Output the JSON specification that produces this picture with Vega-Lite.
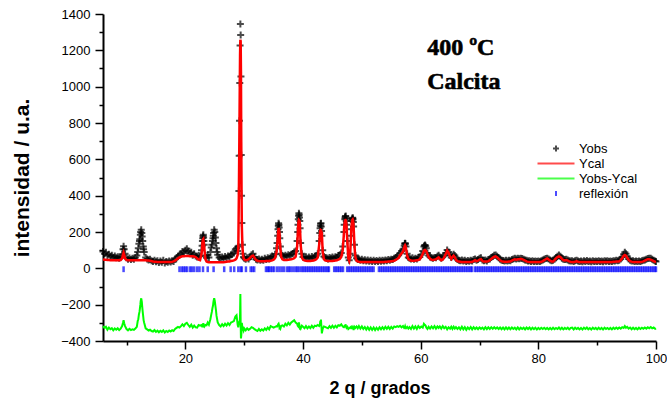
{
"$schema": "https://vega.github.io/schema/vega-lite/v6.json",
"width": 553, "height": 327,
"autosize": "none",
"padding": {"left": 103, "top": 14, "right": 11, "bottom": 59},
"background": "white",
"config": {
  "view": {"stroke": null},
  "font": "Liberation Sans",
  "axis": {"domainColor": "black", "domainWidth": 2, "tickColor": "black", "tickWidth": 1.5, "labelColor": "black", "labelFont": "Liberation Sans", "labelFontSize": 13, "titleFont": "Liberation Sans", "titleFontWeight": "bold", "titleColor": "black", "grid": false}
},
"data": {"values": [
{"x":6,"o":92,"c":48,"d":-318},{"x":6.25,"o":80,"c":47,"d":-328},{"x":6.5,"o":88,"c":47,"d":-322},{"x":6.75,"o":70,"c":46,"d":-338},
{"x":7,"o":78,"c":46,"d":-326},{"x":7.25,"o":66,"c":45,"d":-335},{"x":7.5,"o":72,"c":45,"d":-329},{"x":7.75,"o":60,"c":45,"d":-341},
{"x":8,"o":68,"c":44,"d":-331},{"x":8.25,"o":58,"c":44,"d":-338},{"x":8.5,"o":64,"c":44,"d":-330},{"x":8.75,"o":55,"c":44,"d":-340},
{"x":9,"o":62,"c":45,"d":-332},{"x":9.25,"o":78,"c":55,"d":-318},{"x":9.5,"o":122,"c":86,"d":-285},{"x":9.75,"o":80,"c":55,"d":-318},
{"x":10,"o":58,"c":45,"d":-334},{"x":10.25,"o":50,"c":44,"d":-341},{"x":10.5,"o":57,"c":44,"d":-333},{"x":10.75,"o":48,"c":44,"d":-340},
{"x":11,"o":55,"c":44,"d":-336},{"x":11.25,"o":50,"c":44,"d":-339},{"x":11.5,"o":60,"c":44,"d":-331},{"x":11.75,"o":70,"c":44,"d":-322},
{"x":12,"o":110,"c":44,"d":-280},{"x":12.25,"o":160,"c":44,"d":-228},{"x":12.5,"o":212,"c":45,"d":-165},{"x":12.75,"o":150,"c":45,"d":-240},
{"x":13,"o":90,"c":44,"d":-300},{"x":13.25,"o":60,"c":44,"d":-330},{"x":13.5,"o":52,"c":43,"d":-336},{"x":13.75,"o":46,"c":43,"d":-342},
{"x":14,"o":50,"c":42,"d":-338},{"x":14.25,"o":42,"c":40,"d":-345},{"x":14.5,"o":38,"c":37,"d":-348},{"x":14.75,"o":45,"c":36,"d":-340},
{"x":15,"o":36,"c":36,"d":-350},{"x":15.25,"o":42,"c":35,"d":-343},{"x":15.5,"o":32,"c":35,"d":-352},{"x":15.75,"o":40,"c":35,"d":-344},
{"x":16,"o":34,"c":35,"d":-350},{"x":16.25,"o":44,"c":35,"d":-341},{"x":16.5,"o":30,"c":35,"d":-353},{"x":16.75,"o":38,"c":35,"d":-345},
{"x":17,"o":33,"c":35,"d":-350},{"x":17.25,"o":41,"c":35,"d":-342},{"x":17.5,"o":35,"c":35,"d":-348},{"x":17.75,"o":42,"c":36,"d":-341},
{"x":18,"o":38,"c":38,"d":-345},{"x":18.25,"o":50,"c":42,"d":-334},{"x":18.5,"o":58,"c":48,"d":-328},{"x":18.75,"o":66,"c":55,"d":-322},
{"x":19,"o":72,"c":60,"d":-326},{"x":19.25,"o":80,"c":64,"d":-318},{"x":19.5,"o":92,"c":66,"d":-308},{"x":19.75,"o":86,"c":67,"d":-318},
{"x":20,"o":100,"c":68,"d":-305},{"x":20.25,"o":108,"c":68,"d":-300},{"x":20.5,"o":95,"c":68,"d":-312},{"x":20.75,"o":82,"c":67,"d":-322},
{"x":21,"o":88,"c":66,"d":-310},{"x":21.25,"o":72,"c":66,"d":-326},{"x":21.5,"o":80,"c":65,"d":-315},{"x":21.75,"o":68,"c":62,"d":-325},
{"x":22,"o":62,"c":55,"d":-326},{"x":22.25,"o":70,"c":48,"d":-312},{"x":22.5,"o":66,"c":45,"d":-316},{"x":22.75,"o":100,"c":80,"d":-312},
{"x":22.9,"o":150,"c":140,"d":-320},{"x":23.05,"o":185,"c":162,"d":-302},{"x":23.2,"o":130,"c":120,"d":-322},{"x":23.4,"o":70,"c":50,"d":-312},
{"x":23.6,"o":58,"c":38,"d":-314},{"x":23.8,"o":72,"c":35,"d":-298},{"x":24,"o":60,"c":34,"d":-310},{"x":24.25,"o":90,"c":34,"d":-280},
{"x":24.5,"o":130,"c":34,"d":-240},{"x":24.75,"o":180,"c":34,"d":-190},{"x":24.9,"o":212,"c":34,"d":-165},{"x":25.1,"o":170,"c":34,"d":-205},
{"x":25.3,"o":110,"c":34,"d":-262},{"x":25.5,"o":75,"c":34,"d":-298},{"x":25.75,"o":60,"c":34,"d":-312},{"x":26,"o":52,"c":34,"d":-320},
{"x":26.25,"o":62,"c":34,"d":-308},{"x":26.5,"o":55,"c":34,"d":-318},{"x":26.75,"o":65,"c":35,"d":-305},{"x":27,"o":58,"c":36,"d":-315},
{"x":27.25,"o":68,"c":37,"d":-302},{"x":27.5,"o":62,"c":38,"d":-312},{"x":27.75,"o":75,"c":40,"d":-298},{"x":28,"o":80,"c":42,"d":-295},
{"x":28.25,"o":85,"c":44,"d":-290},{"x":28.5,"o":105,"c":48,"d":-265},{"x":28.7,"o":110,"c":55,"d":-258},{"x":28.9,"o":95,"c":75,"d":-312},
{"x":29,"o":120,"c":110,"d":-325},{"x":29.1,"o":426,"c":420,"d":-300},{"x":29.2,"o":813,"c":800,"d":-290},{"x":29.3,"o":1226,"c":1180,"d":-250},
{"x":29.35,"o":1345,"c":1258,"d":-142},{"x":29.4,"o":1285,"c":1250,"d":-300},{"x":29.45,"o":1056,"c":1080,"d":-386},{"x":29.5,"o":624,"c":700,"d":-370},
{"x":29.55,"o":400,"c":420,"d":-345},{"x":29.6,"o":250,"c":230,"d":-300},{"x":29.7,"o":130,"c":120,"d":-325},{"x":29.8,"o":80,"c":70,"d":-332},
{"x":29.9,"o":62,"c":55,"d":-342},{"x":30,"o":55,"c":48,"d":-330},{"x":30.25,"o":50,"c":45,"d":-341},{"x":30.5,"o":58,"c":46,"d":-330},
{"x":30.75,"o":52,"c":50,"d":-339},{"x":31,"o":62,"c":58,"d":-333},{"x":31.25,"o":75,"c":66,"d":-324},{"x":31.5,"o":80,"c":70,"d":-327},
{"x":31.75,"o":62,"c":58,"d":-335},{"x":32,"o":50,"c":46,"d":-340},{"x":32.25,"o":46,"c":42,"d":-345},{"x":32.5,"o":52,"c":40,"d":-334},
{"x":32.75,"o":44,"c":39,"d":-344},{"x":33,"o":50,"c":39,"d":-336},{"x":33.25,"o":45,"c":39,"d":-342},{"x":33.5,"o":55,"c":39,"d":-330},
{"x":33.75,"o":48,"c":40,"d":-339},{"x":34,"o":58,"c":40,"d":-326},{"x":34.25,"o":52,"c":40,"d":-336},{"x":34.5,"o":62,"c":42,"d":-318},
{"x":34.75,"o":68,"c":44,"d":-322},{"x":35,"o":65,"c":48,"d":-326},{"x":35.25,"o":78,"c":56,"d":-322},{"x":35.5,"o":110,"c":90,"d":-318},
{"x":35.7,"o":180,"c":160,"d":-315},{"x":35.85,"o":248,"c":222,"d":-304},{"x":36,"o":200,"c":190,"d":-328},{"x":36.15,"o":120,"c":110,"d":-332},
{"x":36.3,"o":80,"c":62,"d":-316},{"x":36.5,"o":70,"c":50,"d":-314},{"x":36.75,"o":62,"c":46,"d":-320},{"x":37,"o":72,"c":46,"d":-305},
{"x":37.25,"o":66,"c":46,"d":-314},{"x":37.5,"o":75,"c":47,"d":-300},{"x":37.75,"o":70,"c":48,"d":-310},{"x":38,"o":78,"c":50,"d":-298},
{"x":38.25,"o":82,"c":52,"d":-292},{"x":38.5,"o":90,"c":56,"d":-286},{"x":38.75,"o":95,"c":64,"d":-298},{"x":39,"o":150,"c":120,"d":-305},
{"x":39.15,"o":240,"c":220,"d":-318},{"x":39.3,"o":303,"c":266,"d":-298},{"x":39.45,"o":260,"c":250,"d":-328},{"x":39.6,"o":140,"c":130,"d":-332},
{"x":39.8,"o":80,"c":60,"d":-316},{"x":40,"o":62,"c":48,"d":-322},{"x":40.25,"o":58,"c":44,"d":-330},{"x":40.5,"o":64,"c":42,"d":-318},
{"x":40.75,"o":55,"c":41,"d":-330},{"x":41,"o":62,"c":41,"d":-320},{"x":41.25,"o":56,"c":41,"d":-329},{"x":41.5,"o":65,"c":42,"d":-316},
{"x":41.75,"o":58,"c":43,"d":-327},{"x":42,"o":66,"c":46,"d":-316},{"x":42.25,"o":70,"c":50,"d":-318},{"x":42.5,"o":80,"c":60,"d":-312},
{"x":42.75,"o":150,"c":130,"d":-318},{"x":42.9,"o":220,"c":200,"d":-300},{"x":43.05,"o":248,"c":211,"d":-282},{"x":43.2,"o":180,"c":190,"d":-358},
{"x":43.35,"o":100,"c":90,"d":-332},{"x":43.55,"o":65,"c":50,"d":-320},{"x":43.75,"o":60,"c":44,"d":-322},{"x":44,"o":58,"c":42,"d":-326},
{"x":44.25,"o":52,"c":41,"d":-330},{"x":44.5,"o":60,"c":41,"d":-318},{"x":44.75,"o":55,"c":41,"d":-328},{"x":45,"o":62,"c":41,"d":-316},
{"x":45.25,"o":56,"c":42,"d":-327},{"x":45.5,"o":64,"c":43,"d":-316},{"x":45.75,"o":60,"c":44,"d":-325},{"x":46,"o":70,"c":48,"d":-313},
{"x":46.25,"o":75,"c":52,"d":-316},{"x":46.5,"o":85,"c":62,"d":-308},{"x":46.75,"o":120,"c":100,"d":-320},{"x":46.95,"o":200,"c":190,"d":-324},
{"x":47.1,"o":270,"c":255,"d":-316},{"x":47.25,"o":288,"c":266,"d":-308},{"x":47.4,"o":240,"c":230,"d":-328},{"x":47.55,"o":150,"c":140,"d":-322},
{"x":47.7,"o":60,"c":55,"d":-334},{"x":47.85,"o":45,"c":42,"d":-330},{"x":48,"o":80,"c":70,"d":-326},{"x":48.15,"o":180,"c":170,"d":-322},
{"x":48.3,"o":260,"c":250,"d":-330},{"x":48.45,"o":278,"c":270,"d":-324},{"x":48.6,"o":230,"c":230,"d":-340},{"x":48.75,"o":130,"c":120,"d":-322},
{"x":48.9,"o":70,"c":60,"d":-328},{"x":49.1,"o":55,"c":42,"d":-320},{"x":49.3,"o":48,"c":38,"d":-330},{"x":49.5,"o":52,"c":36,"d":-318},
{"x":49.75,"o":44,"c":35,"d":-332},{"x":50,"o":50,"c":35,"d":-320},{"x":50.25,"o":42,"c":35,"d":-334},{"x":50.5,"o":47,"c":35,"d":-323},
{"x":50.75,"o":40,"c":35,"d":-337},{"x":51,"o":46,"c":35,"d":-324},{"x":51.25,"o":39,"c":35,"d":-338},{"x":51.5,"o":45,"c":35,"d":-325},
{"x":51.75,"o":38,"c":35,"d":-339},{"x":52,"o":44,"c":35,"d":-326},{"x":52.25,"o":37,"c":35,"d":-340},{"x":52.5,"o":43,"c":35,"d":-327},
{"x":52.75,"o":38,"c":35,"d":-338},{"x":53,"o":44,"c":35,"d":-325},{"x":53.25,"o":39,"c":35,"d":-336},{"x":53.5,"o":45,"c":35,"d":-324},
{"x":53.75,"o":40,"c":35,"d":-335},{"x":54,"o":46,"c":36,"d":-322},{"x":54.25,"o":42,"c":36,"d":-333},{"x":54.5,"o":48,"c":37,"d":-322},
{"x":54.75,"o":44,"c":38,"d":-334},{"x":55,"o":50,"c":39,"d":-322},{"x":55.25,"o":48,"c":40,"d":-332},{"x":55.5,"o":55,"c":42,"d":-320},
{"x":55.75,"o":60,"c":46,"d":-324},{"x":56,"o":65,"c":52,"d":-318},{"x":56.25,"o":72,"c":58,"d":-322},{"x":56.5,"o":85,"c":72,"d":-316},
{"x":56.75,"o":95,"c":82,"d":-325},{"x":57,"o":105,"c":92,"d":-318},{"x":57.2,"o":125,"c":115,"d":-328},{"x":57.35,"o":138,"c":128,"d":-320},
{"x":57.5,"o":120,"c":110,"d":-330},{"x":57.7,"o":80,"c":70,"d":-322},{"x":57.9,"o":60,"c":52,"d":-332},{"x":58.1,"o":55,"c":46,"d":-324},
{"x":58.35,"o":52,"c":43,"d":-334},{"x":58.6,"o":58,"c":42,"d":-318},{"x":58.85,"o":50,"c":42,"d":-332},{"x":59.1,"o":56,"c":43,"d":-320},
{"x":59.35,"o":52,"c":44,"d":-334},{"x":59.6,"o":60,"c":46,"d":-318},{"x":59.85,"o":62,"c":50,"d":-328},{"x":60.1,"o":75,"c":62,"d":-320},
{"x":60.35,"o":95,"c":80,"d":-326},{"x":60.55,"o":120,"c":96,"d":-306},{"x":60.75,"o":128,"c":101,"d":-312},{"x":60.95,"o":110,"c":95,"d":-326},
{"x":61.15,"o":85,"c":78,"d":-334},{"x":61.35,"o":70,"c":62,"d":-322},{"x":61.6,"o":62,"c":52,"d":-332},{"x":61.85,"o":58,"c":48,"d":-320},
{"x":62.1,"o":55,"c":46,"d":-330},{"x":62.35,"o":60,"c":48,"d":-318},{"x":62.6,"o":58,"c":50,"d":-332},{"x":62.85,"o":66,"c":56,"d":-320},
{"x":63.05,"o":72,"c":60,"d":-328},{"x":63.25,"o":62,"c":52,"d":-320},{"x":63.5,"o":55,"c":44,"d":-332},{"x":63.75,"o":62,"c":48,"d":-318},
{"x":64,"o":70,"c":60,"d":-330},{"x":64.25,"o":85,"c":78,"d":-322},{"x":64.5,"o":101,"c":97,"d":-336},{"x":64.75,"o":90,"c":85,"d":-324},
{"x":65,"o":72,"c":62,"d":-332},{"x":65.2,"o":60,"c":52,"d":-322},{"x":65.4,"o":68,"c":62,"d":-334},{"x":65.6,"o":78,"c":70,"d":-322},
{"x":65.8,"o":70,"c":62,"d":-332},{"x":66,"o":55,"c":46,"d":-324},{"x":66.25,"o":48,"c":40,"d":-334},{"x":66.5,"o":45,"c":37,"d":-325},
{"x":66.75,"o":42,"c":36,"d":-336},{"x":67,"o":46,"c":35,"d":-322},{"x":67.25,"o":40,"c":35,"d":-336},{"x":67.5,"o":44,"c":35,"d":-324},
{"x":67.75,"o":38,"c":35,"d":-338},{"x":68,"o":43,"c":35,"d":-325},{"x":68.25,"o":39,"c":35,"d":-335},{"x":68.5,"o":44,"c":35,"d":-323},
{"x":68.75,"o":40,"c":36,"d":-336},{"x":69,"o":48,"c":40,"d":-324},{"x":69.25,"o":52,"c":45,"d":-334},{"x":69.5,"o":44,"c":40,"d":-326},
{"x":69.75,"o":48,"c":42,"d":-335},{"x":70,"o":55,"c":48,"d":-325},{"x":70.25,"o":58,"c":50,"d":-333},{"x":70.5,"o":46,"c":40,"d":-326},
{"x":70.75,"o":42,"c":37,"d":-336},{"x":71,"o":46,"c":37,"d":-324},{"x":71.25,"o":41,"c":37,"d":-335},{"x":71.5,"o":48,"c":40,"d":-325},
{"x":71.75,"o":52,"c":45,"d":-334},{"x":72,"o":60,"c":52,"d":-324},{"x":72.25,"o":65,"c":58,"d":-333},{"x":72.5,"o":72,"c":64,"d":-324},
{"x":72.75,"o":73,"c":66,"d":-332},{"x":73,"o":66,"c":60,"d":-325},{"x":73.25,"o":58,"c":52,"d":-334},{"x":73.5,"o":50,"c":44,"d":-326},
{"x":73.75,"o":45,"c":40,"d":-335},{"x":74,"o":43,"c":37,"d":-326},{"x":74.25,"o":40,"c":36,"d":-336},{"x":74.5,"o":44,"c":36,"d":-325},
{"x":74.75,"o":40,"c":36,"d":-335},{"x":75,"o":44,"c":37,"d":-326},{"x":75.25,"o":42,"c":38,"d":-335},{"x":75.5,"o":48,"c":42,"d":-326},
{"x":75.75,"o":52,"c":46,"d":-334},{"x":76,"o":55,"c":50,"d":-327},{"x":76.25,"o":52,"c":48,"d":-336},{"x":76.5,"o":56,"c":50,"d":-325},
{"x":76.75,"o":53,"c":50,"d":-336},{"x":77,"o":56,"c":52,"d":-327},{"x":77.25,"o":54,"c":50,"d":-334},{"x":77.5,"o":50,"c":46,"d":-327},
{"x":77.75,"o":46,"c":42,"d":-336},{"x":78,"o":44,"c":38,"d":-326},{"x":78.25,"o":40,"c":36,"d":-334},{"x":78.5,"o":42,"c":35,"d":-326},
{"x":78.75,"o":38,"c":35,"d":-336},{"x":79,"o":42,"c":35,"d":-327},{"x":79.25,"o":38,"c":35,"d":-335},{"x":79.5,"o":41,"c":35,"d":-327},
{"x":79.75,"o":37,"c":35,"d":-337},{"x":80,"o":41,"c":35,"d":-328},{"x":80.25,"o":38,"c":35,"d":-335},{"x":80.5,"o":42,"c":36,"d":-327},
{"x":80.75,"o":46,"c":40,"d":-334},{"x":81,"o":50,"c":45,"d":-327},{"x":81.25,"o":54,"c":50,"d":-335},{"x":81.5,"o":56,"c":54,"d":-328},
{"x":81.75,"o":52,"c":48,"d":-336},{"x":82,"o":46,"c":42,"d":-328},{"x":82.25,"o":42,"c":38,"d":-336},{"x":82.5,"o":44,"c":38,"d":-327},
{"x":82.75,"o":50,"c":45,"d":-335},{"x":83,"o":58,"c":55,"d":-328},{"x":83.25,"o":66,"c":62,"d":-334},{"x":83.5,"o":73,"c":66,"d":-326},
{"x":83.75,"o":66,"c":62,"d":-335},{"x":84,"o":56,"c":52,"d":-327},{"x":84.25,"o":50,"c":46,"d":-336},{"x":84.5,"o":48,"c":44,"d":-328},
{"x":84.75,"o":50,"c":46,"d":-334},{"x":85,"o":46,"c":42,"d":-327},{"x":85.25,"o":42,"c":38,"d":-336},{"x":85.5,"o":40,"c":36,"d":-328},
{"x":85.75,"o":42,"c":35,"d":-326},{"x":86,"o":38,"c":35,"d":-336},{"x":86.25,"o":42,"c":36,"d":-327},{"x":86.5,"o":44,"c":40,"d":-334},
{"x":86.75,"o":40,"c":36,"d":-328},{"x":87,"o":37,"c":35,"d":-336},{"x":87.25,"o":41,"c":35,"d":-328},{"x":87.5,"o":36,"c":35,"d":-337},
{"x":87.75,"o":42,"c":35,"d":-327},{"x":88,"o":38,"c":35,"d":-334},{"x":88.25,"o":43,"c":35,"d":-326},{"x":88.5,"o":37,"c":35,"d":-336},
{"x":88.75,"o":40,"c":35,"d":-329},{"x":89,"o":36,"c":35,"d":-337},{"x":89.25,"o":42,"c":35,"d":-327},{"x":89.5,"o":38,"c":35,"d":-334},
{"x":89.75,"o":41,"c":35,"d":-328},{"x":90,"o":37,"c":35,"d":-336},{"x":90.25,"o":42,"c":35,"d":-327},{"x":90.5,"o":38,"c":35,"d":-335},
{"x":90.75,"o":41,"c":35,"d":-328},{"x":91,"o":36,"c":35,"d":-337},{"x":91.25,"o":42,"c":35,"d":-327},{"x":91.5,"o":39,"c":35,"d":-334},
{"x":91.75,"o":42,"c":35,"d":-328},{"x":92,"o":38,"c":35,"d":-335},{"x":92.25,"o":41,"c":35,"d":-328},{"x":92.5,"o":37,"c":35,"d":-336},
{"x":92.75,"o":42,"c":36,"d":-327},{"x":93,"o":40,"c":36,"d":-334},{"x":93.25,"o":44,"c":37,"d":-326},{"x":93.5,"o":42,"c":37,"d":-333},
{"x":93.75,"o":45,"c":38,"d":-326},{"x":94,"o":52,"c":45,"d":-332},{"x":94.25,"o":62,"c":56,"d":-324},{"x":94.5,"o":78,"c":68,"d":-328},
{"x":94.7,"o":88,"c":73,"d":-318},{"x":94.9,"o":80,"c":70,"d":-327},{"x":95.1,"o":66,"c":58,"d":-322},{"x":95.35,"o":52,"c":46,"d":-332},
{"x":95.6,"o":44,"c":40,"d":-326},{"x":95.85,"o":40,"c":37,"d":-335},{"x":96.1,"o":42,"c":35,"d":-327},{"x":96.35,"o":38,"c":35,"d":-335},
{"x":96.6,"o":41,"c":35,"d":-328},{"x":96.85,"o":37,"c":35,"d":-336},{"x":97.1,"o":41,"c":35,"d":-327},{"x":97.35,"o":38,"c":35,"d":-334},
{"x":97.6,"o":42,"c":36,"d":-327},{"x":97.85,"o":44,"c":38,"d":-333},{"x":98.1,"o":46,"c":42,"d":-326},{"x":98.35,"o":50,"c":46,"d":-332},
{"x":98.6,"o":54,"c":50,"d":-324},{"x":98.85,"o":56,"c":50,"d":-330},{"x":99.1,"o":55,"c":48,"d":-323},{"x":99.35,"o":50,"c":44,"d":-330},
{"x":99.6,"o":44,"c":40,"d":-326},{"x":99.85,"o":40,"c":36,"d":-333},{"x":100,"o":38,"c":35,"d":-330},
{"x":9.4,"o":105,"c":75,"d":-300},{"x":9.6,"o":105,"c":75,"d":-302},
{"x":11.9,"o":90,"c":44,"d":-290},{"x":12.1,"o":135,"c":44,"d":-255},{"x":12.2,"o":150,"c":44,"d":-240},{"x":12.35,"o":185,"c":44,"d":-200},{"x":12.4,"o":200,"c":44,"d":-182},{"x":12.6,"o":195,"c":45,"d":-185},{"x":12.65,"o":175,"c":45,"d":-205},{"x":12.85,"o":120,"c":44,"d":-268},{"x":12.9,"o":105,"c":44,"d":-285},
{"x":22.85,"o":125,"c":110,"d":-320},{"x":22.95,"o":165,"c":152,"d":-318},{"x":23.0,"o":178,"c":160,"d":-312},{"x":23.1,"o":170,"c":150,"d":-315},{"x":23.15,"o":150,"c":135,"d":-320},
{"x":24.4,"o":115,"c":34,"d":-255},{"x":24.6,"o":150,"c":34,"d":-220},{"x":24.7,"o":165,"c":34,"d":-205},{"x":24.8,"o":195,"c":34,"d":-180},{"x":25.0,"o":200,"c":34,"d":-180},{"x":25.2,"o":140,"c":34,"d":-230},{"x":25.4,"o":90,"c":34,"d":-280},
{"x":29.15,"o":620,"c":610,"d":-300},{"x":29.25,"o":1020,"c":1000,"d":-300},
{"x":35.6,"o":140,"c":125,"d":-320},{"x":35.75,"o":215,"c":190,"d":-310},{"x":35.8,"o":235,"c":210,"d":-306},{"x":35.9,"o":240,"c":215,"d":-310},{"x":35.95,"o":225,"c":205,"d":-316},{"x":36.05,"o":165,"c":155,"d":-326},
{"x":39.1,"o":200,"c":180,"d":-316},{"x":39.2,"o":270,"c":245,"d":-310},{"x":39.25,"o":290,"c":260,"d":-305},{"x":39.35,"o":295,"c":264,"d":-306},{"x":39.4,"o":280,"c":260,"d":-315},{"x":39.5,"o":220,"c":210,"d":-326},
{"x":42.85,"o":195,"c":175,"d":-312},{"x":42.95,"o":235,"c":208,"d":-302},{"x":43.0,"o":245,"c":212,"d":-296},{"x":43.1,"o":230,"c":205,"d":-310},{"x":43.15,"o":205,"c":200,"d":-330},
{"x":47.0,"o":240,"c":230,"d":-322},{"x":47.15,"o":280,"c":262,"d":-315},{"x":47.2,"o":285,"c":266,"d":-313},{"x":47.3,"o":275,"c":262,"d":-320},{"x":47.35,"o":260,"c":250,"d":-325},
{"x":48.2,"o":215,"c":210,"d":-330},{"x":48.35,"o":270,"c":262,"d":-327},{"x":48.4,"o":276,"c":268,"d":-327},{"x":48.5,"o":270,"c":265,"d":-330},{"x":48.55,"o":255,"c":250,"d":-330},
{"x":57.3,"o":135,"c":125,"d":-325},{"x":57.4,"o":135,"c":125,"d":-326},{"x":60.65,"o":126,"c":100,"d":-310},{"x":60.85,"o":122,"c":99,"d":-316}
]},
"layer": [
 {
  "mark": {"type": "point", "filled": false, "strokeWidth": 2, "size": 136, "clip": false},
  "encoding": {
   "x": {"field": "x", "type": "quantitative", "scale": {"domain": [6, 100], "nice": false, "zero": false},
         "axis": {"orient": "bottom", "values": [20, 40, 60, 80, 100], "tickSize": 8, "labelPadding": 3, "labelFlush": false, "title": "2 q  / grados", "titleFontSize": 18, "titleY": 52, "titleBaseline": "alphabetic"}},
   "y": {"field": "o", "type": "quantitative", "scale": {"domain": [-400, 1400], "nice": false, "zero": false},
         "axis": {"orient": "left", "values": [-400, -200, 0, 200, 400, 600, 800, 1000, 1200, 1400], "format": "d", "tickSize": 8, "labelPadding": 5, "title": "intensidad / u.a.", "titleFontSize": 21, "titleX": -81, "titleY": 163.5, "titleAngle": -90, "titleBaseline": "middle", "titleAlign": "center"}},
   "color": {"datum": "Yobs", "type": "nominal",
     "scale": {"domain": ["Yobs", "Ycal", "Yobs-Ycal", "reflexión"], "range": ["#000000", "#ff0000", "#00ff00", "#0000ff"]},
     "legend": {"orient": "none", "legendX": 446.5, "legendY": 128, "title": null, "symbolSize": 100, "symbolStrokeWidth": 2, "labelFontSize": 13, "labelFont": "Liberation Sans", "labelColor": "black", "labelOffset": 16.5, "rowPadding": 1, "padding": 0}},
   "shape": {"datum": "Yobs", "type": "nominal",
     "scale": {"domain": ["Yobs", "Ycal", "Yobs-Ycal", "reflexión"], "range": ["M-0.6,0H0.6M0,-0.6V0.6", "M-3.7,0H3.7", "M-3.7,0H3.7", "M0,-0.5V0.5"]},
     "legend": {"orient": "none", "legendX": 446.5, "legendY": 128, "title": null, "symbolSize": 100, "symbolStrokeWidth": 2, "labelFontSize": 13, "labelFont": "Liberation Sans", "labelColor": "black", "labelOffset": 16.5, "rowPadding": 1, "padding": 0}}
  }
 },
 {
  "mark": {"type": "line", "strokeWidth": 2.5},
  "encoding": {
   "x": {"field": "x", "type": "quantitative", "axis": {"orient": "bottom", "values": [10, 30, 50, 70, 90], "tickSize": 4, "labels": false, "domain": false, "title": null}},
   "y": {"field": "c", "type": "quantitative", "axis": {"orient": "left", "values": [-300, -100, 100, 300, 500, 700, 900, 1100, 1300], "tickSize": 4, "labels": false, "domain": false, "title": null}},
   "color": {"datum": "Ycal", "type": "nominal"}
  }
 },
 {
  "mark": {"type": "line", "strokeWidth": 2},
  "encoding": {
   "x": {"field": "x", "type": "quantitative", "axis": null},
   "y": {"field": "d", "type": "quantitative", "axis": null},
   "color": {"datum": "Yobs-Ycal", "type": "nominal"}
  }
 },
 {
  "data": {"values": [
   {"r":9.5},{"r":19.0},{"r":19.4},{"r":19.7},{"r":20.0},{"r":20.3},{"r":20.8},{"r":21.1},{"r":21.5},{"r":22.0},{"r":22.4},{"r":23.0},{"r":23.8},{"r":24.8},
   {"r":26.6},{"r":27.7},{"r":28.3},{"r":29.0},{"r":29.4},{"r":29.6},{"r":30.3},{"r":31.1},{"r":31.4},{"r":31.7},
   {"r":33.7},{"r":34.0},{"r":34.2},{"r":34.5},{"r":34.8},{"r":35.1},{"r":35.6},{"r":36.0},{"r":36.4},{"r":36.8},{"r":37.3},{"r":37.6},{"r":37.9},{"r":38.3},{"r":38.7},{"r":39.0},{"r":39.3},{"r":39.7},{"r":40.0},
   {"r":40.3},{"r":40.6},{"r":40.9},{"r":41.2},{"r":41.5},{"r":41.8},{"r":42.1},{"r":42.4},{"r":42.7},{"r":43.0},{"r":43.3},{"r":43.6},{"r":43.9},{"r":44.2},{"r":44.4},
   {"r":45.3},{"r":45.6},{"r":45.9},{"r":46.2},{"r":46.5},{"r":46.8},
   {"r":47.5},{"r":47.8},{"r":48.1},{"r":48.4},{"r":48.7},{"r":49.0},{"r":49.3},{"r":49.6},{"r":49.9},{"r":50.2},{"r":50.5},{"r":50.8},{"r":51.1},{"r":51.4},{"r":51.7},{"r":52.0},
   {"r":52.9},{"r":53.2},{"r":53.5},{"r":53.8},{"r":54.1},{"r":54.4},{"r":54.7},{"r":55.0},{"r":55.3},{"r":55.6},{"r":55.9},{"r":56.2},{"r":56.5},{"r":56.8},{"r":57.1},{"r":57.4},{"r":57.7},{"r":58.0},{"r":58.3},{"r":58.6},{"r":58.9},{"r":59.2},{"r":59.5},{"r":59.8},{"r":60.1},{"r":60.4},{"r":60.7},{"r":61.0},{"r":61.3},{"r":61.6},{"r":61.9},{"r":62.2},{"r":62.5},{"r":62.8},{"r":63.1},{"r":63.4},{"r":63.7},{"r":64.0},{"r":64.3},{"r":64.6},{"r":64.9},{"r":65.2},{"r":65.5},{"r":65.8},{"r":66.1},{"r":66.4},{"r":66.7},{"r":67.0},{"r":67.3},{"r":67.6},{"r":67.9},{"r":68.2},{"r":68.5},{"r":68.7},
   {"r":69.2},{"r":69.5},{"r":69.8},{"r":70.1},{"r":70.4},{"r":70.7},{"r":71.0},{"r":71.3},{"r":71.6},{"r":71.9},{"r":72.2},{"r":72.5},{"r":72.8},{"r":73.1},{"r":73.4},{"r":73.7},{"r":74.0},{"r":74.3},{"r":74.6},{"r":74.9},{"r":75.2},{"r":75.5},{"r":75.8},{"r":76.1},{"r":76.4},{"r":76.7},{"r":77.0},{"r":77.3},{"r":77.6},{"r":77.9},{"r":78.2},{"r":78.5},{"r":78.8},{"r":79.1},{"r":79.4},{"r":79.7},{"r":80.0},{"r":80.3},{"r":80.6},{"r":80.9},{"r":81.2},{"r":81.5},{"r":81.8},{"r":82.1},{"r":82.4},{"r":82.7},{"r":83.0},{"r":83.3},{"r":83.6},{"r":83.9},{"r":84.2},{"r":84.5},{"r":84.8},{"r":85.1},{"r":85.4},{"r":85.7},{"r":86.0},{"r":86.3},{"r":86.6},{"r":86.9},{"r":87.2},{"r":87.5},{"r":87.8},{"r":88.1},{"r":88.4},{"r":88.7},{"r":89.0},{"r":89.3},{"r":89.6},{"r":89.9},{"r":90.2},{"r":90.5},{"r":90.8},{"r":91.1},{"r":91.4},{"r":91.7},{"r":92.0},{"r":92.3},{"r":92.6},{"r":92.9},{"r":93.2},{"r":93.5},{"r":93.8},{"r":94.1},{"r":94.4},{"r":94.7},{"r":95.0},{"r":95.3},{"r":95.6},{"r":95.9},{"r":96.2},{"r":96.5},{"r":96.8},{"r":97.1},{"r":97.4},{"r":97.7},{"r":98.0},{"r":98.3},{"r":98.6},{"r":98.9},{"r":99.2},{"r":99.5},{"r":99.8},{"r":100.0}
  ]},
  "mark": {"type": "point", "filled": false, "strokeWidth": 2.5, "size": 136, "clip": false},
  "encoding": {
   "x": {"field": "r", "type": "quantitative", "axis": null},
   "y": {"datum": -5, "type": "quantitative", "axis": null},
   "color": {"datum": "reflexión", "type": "nominal"},
   "shape": {"datum": "reflexión", "type": "nominal"}
  }
 },
 {
  "data": {"values": [{"t": "400 ºC"}]},
  "mark": {"type": "text", "font": "Liberation Serif", "fontWeight": "bold", "fontSize": 24, "align": "left", "baseline": "alphabetic", "color": "black", "stroke": "black", "strokeWidth": 0.6},
  "encoding": {
   "x": {"datum": 61.1, "type": "quantitative", "axis": null},
   "y": {"datum": 1174, "type": "quantitative", "axis": null},
   "text": {"field": "t"}
  }
 },
 {
  "data": {"values": [{"t": "Calcita"}]},
  "mark": {"type": "text", "font": "Liberation Serif", "fontWeight": "bold", "fontSize": 24, "align": "left", "baseline": "alphabetic", "color": "black", "stroke": "black", "strokeWidth": 0.6},
  "encoding": {
   "x": {"datum": 61.1, "type": "quantitative", "axis": null},
   "y": {"datum": 987, "type": "quantitative", "axis": null},
   "text": {"field": "t"}
  }
 }
],
"resolve": {"axis": {"x": "independent", "y": "independent"}}
}
